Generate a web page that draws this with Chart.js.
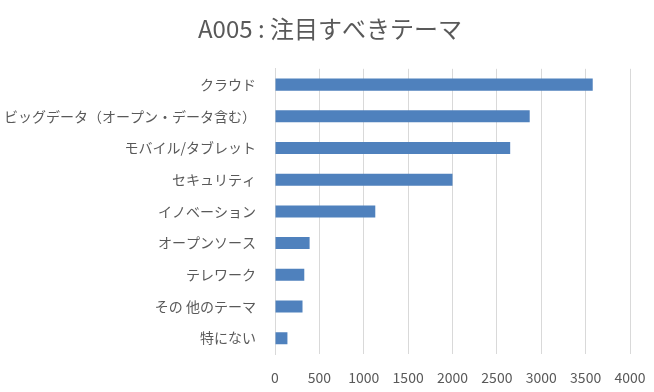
<!DOCTYPE html>
<html>
<head>
<meta charset="utf-8">
<script src="https://cdn.jsdelivr.net/npm/chart.js@4"></script>
<style>
    html, body { margin: 0; padding: 0; background: #fff; }
    #wrap { width: 654px; height: 392px; }
</style>
</head>
<body>
<div id="wrap"><canvas id="themeChart"></canvas></div>
<script>
const themes = [
    "クラウド",
    "ビッグデータ（オープン・データ含む）",
    "モバイル/タブレット",
    "セキュリティ",
    "イノベーション",
    "オープンソース",
    "テレワーク",
    "その 他のテーマ",
    "特にない"
];

const counts = [3580, 2870, 2650, 2000, 1130, 390, 330, 310, 140];

const xTicks = [0, 500, 1000, 1500, 2000, 2500, 3000, 3500, 4000];

const fontFamily = "'Noto Sans CJK JP', 'Noto Sans', sans-serif";

const ctx = document.getElementById("themeChart");

new Chart(ctx, {
    type: "bar",
    data: {
        labels: themes,
        datasets: [{
            label: "A005",
            data: counts,
            backgroundColor: "#4f81bd",
            barPercentage: 0.38,
            categoryPercentage: 1
        }]
    },
    options: {
        indexAxis: "y",
        responsive: true,
        maintainAspectRatio: false,
        animation: false,
        layout: {
            padding: { left: 6, right: 0, top: 0, bottom: 0 }
        },
        plugins: {
            legend: { display: false },
            tooltip: { enabled: false },
            title: {
                display: true,
                text: "A005 : 注目すべきテーマ",
                color: "#595959",
                font: { family: fontFamily, size: 24, weight: "normal" },
                padding: { top: 14, bottom: 26 }
            }
        },
        scales: {
            x: {
                min: 0,
                max: 4000,
                afterBuildTicks: (scale) => {
                    scale.ticks = xTicks.map(v => ({ value: v }));
                },
                afterFit: (scale) => {
                    scale.height = 38;
                    scale.paddingLeft = 0;
                    scale.paddingRight = 24;
                },
                grid: { color: "#d9d9d9", drawTicks: false },
                border: { display: false },
                ticks: {
                    color: "#595959",
                    padding: 15,
                    font: { family: fontFamily, size: 14 },
                    callback: (value) => String(value)
                }
            },
            y: {
                afterFit: (scale) => { scale.width = 269; },
                grid: { display: false },
                border: { color: "#d9d9d9" },
                ticks: {
                    color: "#595959",
                    padding: 11,
                    font: { family: fontFamily, size: 14 }
                }
            }
        }
    }
});
</script>
</body>
</html>
